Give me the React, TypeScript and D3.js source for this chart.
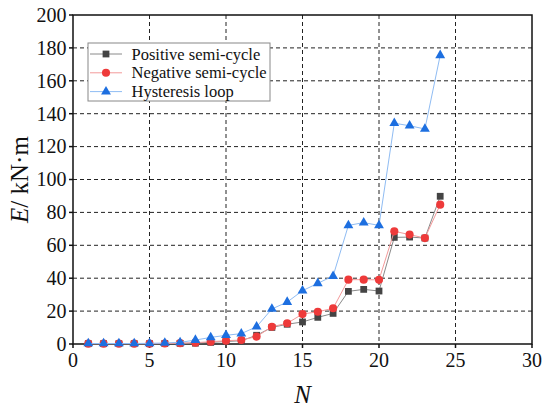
import * as d3 from 'd3';

const cycles = d3.range(1, 25);
const positive = [0.2, 0.2, 0.2, 0.2, 0.2, 0.3, 0.4, 0.5, 1, 1.5, 2, 5.3, 10.1, 12, 13.4, 16.2, 18.6, 32, 33.2, 32.2, 64.8, 65, 64.4, 89.8];
const negative = [0.2, 0.2, 0.2, 0.2, 0.2, 0.3, 0.5, 0.8, 1.4, 2, 2.4, 4.5, 10.5, 12.6, 18.2, 19.6, 21.7, 39.1, 39.1, 39, 68.5, 66.5, 64.4, 84.7];
const hysteresis = [0.3, 0.3, 0.3, 0.3, 0.4, 0.6, 1, 2.4, 4, 5.3, 6.3, 10.5, 21.3, 25.5, 32.4, 36.9, 41.3, 72.1, 73.8, 72.1, 134.2, 132.7, 130.7, 175.5];
const xTicks = [0, 5, 10, 15, 20, 25, 30];
const yTicks = [0, 20, 40, 60, 80, 100, 120, 140, 160, 180, 200];

interface Series {
  name: string;
  values: number[];
  line: string;
  fill: string;
  symbol: d3.SymbolType;
  size: number;
}

const series: Series[] = [
  { name: 'Positive semi-cycle', values: positive, line: '#8a8a8a', fill: '#444444', symbol: d3.symbolSquare, size: 46 },
  { name: 'Negative semi-cycle', values: negative, line: '#f39a9a', fill: '#ee3a3a', symbol: d3.symbolCircle, size: 52 },
  { name: 'Hysteresis loop', values: hysteresis, line: '#8fbcf3', fill: '#1d6fe0', symbol: d3.symbolTriangle, size: 42 },
];

const margin = { top: 15, right: 18, bottom: 67, left: 73 };
const W = 550;
const H = 411;
const innerWidth = W - margin.left - margin.right;
const innerHeight = H - margin.top - margin.bottom;
const font = 'Liberation Serif';

const x = d3.scaleLinear().domain([0, 30]).range([0, innerWidth]);
const y = d3.scaleLinear().domain([0, 200]).range([innerHeight, 0]);

const line = d3
  .line<number>()
  .x((_, i) => x(cycles[i]))
  .y((d) => y(d));

export default function App() {
  return (
    <svg width={W} height={H} style={{ display: 'block', margin: '-8px', fontFamily: font }}>
      <g transform={`translate(${margin.left},${margin.top})`}>
        {/* dashed grid */}
        <g stroke="#222" strokeWidth={1} strokeDasharray="4 3">
          {xTicks.slice(1, -1).map((t) => (
            <line key={`gx${t}`} x1={x(t)} x2={x(t)} y1={0} y2={innerHeight} />
          ))}
          {yTicks.slice(1, -1).map((t) => (
            <line key={`gy${t}`} x1={0} x2={innerWidth} y1={y(t)} y2={y(t)} />
          ))}
        </g>
        <rect width={innerWidth} height={innerHeight} fill="none" stroke="#111" strokeWidth={1.5} />

        {/* x axis */}
        {xTicks.map((t) => (
          <g key={`xt${t}`} transform={`translate(${x(t)},${innerHeight})`}>
            <line y2={4} stroke="#111" strokeWidth={1.5} />
            <text y={23} textAnchor="middle" fontSize={20} fill="#111" style={{ fontFamily: font }}>
              {t}
            </text>
          </g>
        ))}
        {/* y axis */}
        {yTicks.map((t) => (
          <g key={`yt${t}`} transform={`translate(0,${y(t)})`}>
            <line x2={-4} stroke="#111" strokeWidth={1.5} />
            <text x={-6.5} dy="0.34em" textAnchor="end" fontSize={20} fill="#111" style={{ fontFamily: font }}>
              {t}
            </text>
          </g>
        ))}

        {series.map((s) => {
          const sym = d3.symbol().type(s.symbol).size(s.size)() ?? '';
          return (
            <g key={s.name}>
              <path d={line(s.values) ?? ''} fill="none" stroke={s.line} strokeWidth={1} />
              {s.values.map((v, i) => (
                <path key={i} transform={`translate(${x(cycles[i])},${y(v)})`} d={sym} fill={s.fill} />
              ))}
            </g>
          );
        })}
      </g>

      <text
        x={margin.left + innerWidth / 2}
        y={403}
        textAnchor="middle"
        fontSize={25}
        fontStyle="italic"
        fill="#111"
        style={{ fontFamily: font }}
      >
        N
      </text>
      <text
        transform={`translate(28,${margin.top + innerHeight / 2}) rotate(-90)`}
        textAnchor="middle"
        fontSize={25}
        fill="#111"
        style={{ fontFamily: font }}
      >
        <tspan fontStyle="italic">E</tspan>
        <tspan>/ kN·m</tspan>
      </text>

      {/* legend */}
      <g transform="translate(88,43)">
        <rect width={182} height={58} fill="#fff" stroke="#888" strokeWidth={1} />
        {series.map((s, i) => (
          <g key={s.name} transform={`translate(0,${11 + i * 18.8})`}>
            <line x1={2} x2={34} stroke={s.line} strokeWidth={1} />
            <path transform="translate(18,0)" d={d3.symbol().type(s.symbol).size(s.size)() ?? ''} fill={s.fill} />
            <text x={43.5} y={5.5} fontSize={16.5} fill="#111" style={{ fontFamily: font }}>
              {s.name}
            </text>
          </g>
        ))}
      </g>
    </svg>
  );
}
